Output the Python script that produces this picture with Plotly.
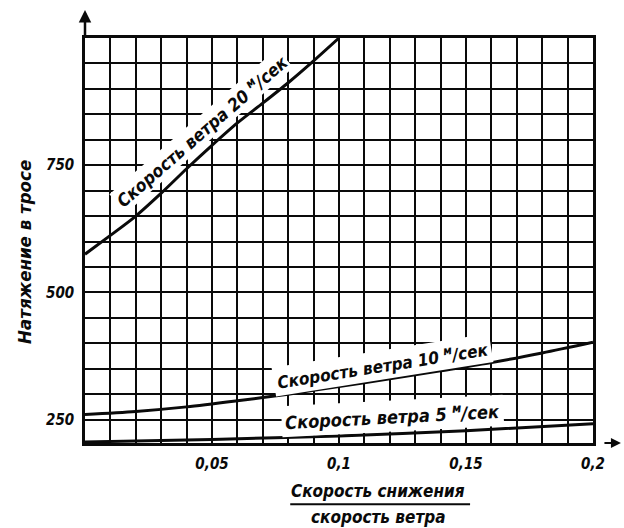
import plotly.graph_objects as go

# ---- data ----
x_20 = [0.0, 0.01, 0.02, 0.03, 0.04, 0.05, 0.06, 0.07, 0.08, 0.09, 0.1]
t_20 = [575, 612, 650, 695, 743, 789, 833, 872, 912, 955, 1000]

x_10 = [0.0, 0.02, 0.04, 0.06, 0.08, 0.1, 0.12, 0.14, 0.16, 0.18, 0.2]
t_10 = [260, 266, 275, 287, 300, 315, 330, 346, 362, 381, 402]

x_5 = [0.0, 0.05, 0.1, 0.15, 0.2]
t_5 = [206, 211, 218, 228, 242]

x_tick_vals = [0.05, 0.1, 0.15, 0.2]
x_tick_text = ["0,05", "0,1", "0,15", "0,2"]
y_tick_vals = [250, 500, 750]
y_tick_text = ["250", "500", "750"]

labels = ["Скорость ветра 20 <sup>м</sup>/сек",
          "Скорость ветра 10 <sup>м</sup>/сек",
          "Скорость ветра 5 <sup>м</sup>/сек"]
y_title = "Натяжение в тросе"
x_title_top = "Скорость снижения"
x_title_bottom = "скорость ветра"

FONT = "DejaVu Sans Condensed, DejaVu Sans, sans-serif"
INK = "#0a0a0a"


def bi(s):
    return "<b><i>%s</i></b>" % s


fig = go.Figure()
for xs, ys in [(x_20, t_20), (x_10, t_10), (x_5, t_5)]:
    fig.add_trace(go.Scatter(x=xs, y=ys, mode="lines",
                             line=dict(color=INK, width=3, shape="spline", smoothing=0.8),
                             showlegend=False, hoverinfo="skip", cliponaxis=True))

grid = dict(showgrid=True, gridcolor=INK, gridwidth=1.9)
fig.update_xaxes(range=[0, 0.2], tickvals=x_tick_vals, ticktext=[bi(t) for t in x_tick_text],
                 ticks="", showline=True, linecolor=INK, linewidth=2.5, mirror=True,
                 zeroline=False, **grid,
                 minor=dict(dtick=0.01, tick0=0, showgrid=True, gridcolor=INK, gridwidth=1.9),
                 tickfont=dict(family=FONT, size=15, color=INK), ticklabelstandoff=5)
fig.update_yaxes(range=[204, 1000], tickvals=y_tick_vals, ticktext=[bi(t) for t in y_tick_text],
                 ticks="", showline=True, linecolor=INK, linewidth=2.5, mirror=True,
                 zeroline=False, **grid,
                 minor=dict(dtick=50, tick0=0, showgrid=True, gridcolor=INK, gridwidth=1.9),
                 tickfont=dict(family=FONT, size=15, color=INK), ticklabelstandoff=5)

fig.add_annotation(x=0.0458, y=817, text=bi(labels[0]), textangle=-41, showarrow=False,
                   bgcolor="white", borderpad=1, font=dict(family=FONT, size=17.5, color=INK))
fig.add_annotation(x=0.117, y=357, text=bi(labels[1]), textangle=-9, showarrow=False,
                   bgcolor="white", borderpad=3, font=dict(family=FONT, size=17, color=INK))
fig.add_annotation(x=0.121, y=258, text=bi(labels[2]), textangle=-3, showarrow=False,
                   bgcolor="white", borderpad=3, font=dict(family=FONT, size=18, color=INK))

# axis titles
fig.add_annotation(xref="paper", yref="paper", x=-0.118, y=0.472, text=bi(y_title),
                   xanchor="center", yanchor="middle",
                   textangle=-90, showarrow=False, font=dict(family=FONT, size=18.5, color=INK))
fig.add_annotation(xref="paper", yref="paper", x=0.577, y=-0.119, text=bi(x_title_top),
                   xanchor="center", yanchor="middle",
                   showarrow=False, font=dict(family=FONT, size=17, color=INK))
fig.add_annotation(xref="paper", yref="paper", x=0.577, y=-0.183, text=bi(x_title_bottom),
                   xanchor="center", yanchor="middle",
                   showarrow=False, font=dict(family=FONT, size=17, color=INK))
fig.add_shape(type="line", xref="paper", yref="paper", x0=0.404, x1=0.758, y0=-0.151, y1=-0.151,
              line=dict(color=INK, width=2))

# axis arrows
fig.add_annotation(xref="x", yref="paper", x=0, y=1.069, ax=0, ay=28, text="", showarrow=True,
                   arrowhead=2, arrowsize=1, arrowwidth=2.5, arrowcolor=INK)
fig.add_annotation(xref="paper", yref="paper", x=1.055, y=0, ax=-18, ay=0, text="", showarrow=True,
                   arrowhead=2, arrowsize=1, arrowwidth=2, arrowcolor=INK)

fig.update_layout(width=624, height=528, margin=dict(l=85, r=31, t=38, b=85),
                  paper_bgcolor="white", plot_bgcolor="white")
fig.write_html("out.html")
